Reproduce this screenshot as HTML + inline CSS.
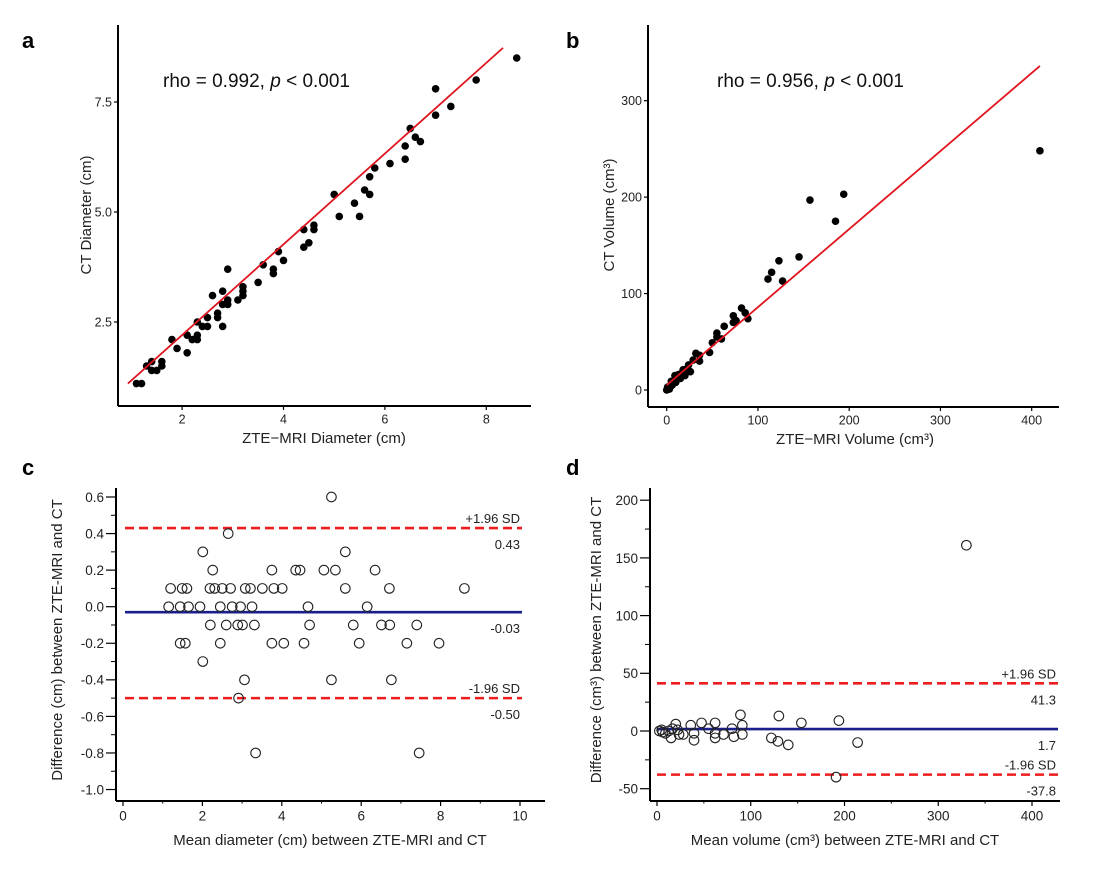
<!DOCTYPE html>
<html><head><meta charset="utf-8">
<style>
body{margin:0;background:#fff;}
svg{display:block;font-family:"Liberation Sans",Arial,sans-serif;}
</style></head>
<body>
<svg id="fig" width="1097" height="888" viewBox="0 0 1097 888" xmlns="http://www.w3.org/2000/svg">
<text x="22" y="48" font-size="22" font-weight="bold">a</text>
<text x="566" y="48" font-size="22" font-weight="bold">b</text>
<text x="22" y="475" font-size="22" font-weight="bold">c</text>
<text x="566" y="475" font-size="22" font-weight="bold">d</text>
</svg>
<script>
// Panel a data
const aX=[1.1,1.2,1.3,1.4,1.4,1.5,1.6,1.6,1.8,1.9,2.1,2.1,2.2,2.3,2.3,2.3,2.4,2.5,2.5,2.6,2.7,2.7,2.8,2.8,2.8,2.9,2.9,2.9,3.1,3.2,3.2,3.2,3.5,3.6,3.8,3.8,3.9,4.0,4.4,4.4,4.5,4.6,4.6,5.0,5.1,5.4,5.5,5.6,5.7,5.7,5.8,6.1,6.4,6.4,6.5,6.6,6.7,7.0,7.0,7.3,7.8,8.6];
const aY=[1.1,1.1,1.5,1.6,1.4,1.4,1.6,1.5,2.1,1.9,2.2,1.8,2.1,2.1,2.2,2.5,2.4,2.4,2.6,3.1,2.7,2.6,2.4,3.2,2.9,3.7,3.0,2.9,3.0,3.1,3.2,3.3,3.4,3.8,3.7,3.6,4.1,3.9,4.6,4.2,4.3,4.7,4.6,5.4,4.9,5.2,4.9,5.5,5.4,5.8,6.0,6.1,6.2,6.5,6.9,6.7,6.6,7.8,7.2,7.4,8.0,8.5];
const aFitX=[0.93,8.33];
const aFitY=[1.1,8.73];
const aTicksX=[2,4,6,8];
const aTicksY=[2.5,5.0,7.5];
const aTickLabelsY=["2.5","5.0","7.5"];
// Panel b data
const bX=[409,194,157,185,145,123,115,111,127,82,86,89,73,73,76,63,55,55,60,50,47,32,36,36,29,24,22,18,20,16,13,9,11,7,4,2,0,5,26,15,3,6,10,1];
const bY=[248,203,197,175,138,134,122,115,113,85,80,74,77,70,72,66,59,55,53,49,39,38,36,30,31,26,22,21,15,17,16,15,11,7,4,2,0,9,19,12,1,5,8,3];
const bFitX=[0,409];
const bFitY=[5,336];
const bTicksX=[0,100,200,300,400];
const bTicksY=[0,100,200,300];
// Panel c data
const cX=[5.25,2.65,2.01,5.6,2.26,3.75,4.35,4.46,5.06,5.35,6.35,1.2,1.49,1.61,2.19,2.31,2.5,2.71,3.08,3.21,3.51,3.8,4.01,5.6,6.71,8.6,1.15,1.44,1.65,1.94,2.45,2.75,2.96,3.25,4.66,6.15,2.2,2.6,2.89,3.01,3.31,4.7,5.8,6.51,6.72,7.4,1.44,1.57,2.45,3.75,4.05,4.56,5.95,7.15,7.96,2.01,3.06,5.25,6.76,2.91,3.34,7.46];
const cY=[0.6,0.4,0.3,0.3,0.2,0.2,0.2,0.2,0.2,0.2,0.2,0.1,0.1,0.1,0.1,0.1,0.1,0.1,0.1,0.1,0.1,0.1,0.1,0.1,0.1,0.1,0,0,0,0,0,0,0,0,0,0,-0.1,-0.1,-0.1,-0.1,-0.1,-0.1,-0.1,-0.1,-0.1,-0.1,-0.2,-0.2,-0.2,-0.2,-0.2,-0.2,-0.2,-0.2,-0.2,-0.3,-0.4,-0.4,-0.4,-0.5,-0.8,-0.8];
const cLimits=[0.43,-0.03,-0.50];
const cTicksX=[0,2,4,6,8,10];
const cTicksY=[0.6,0.4,0.2,0.0,-0.2,-0.4,-0.6,-0.8,-1.0];
const cTickLabelsY=["0.6","0.4","0.2","0.0","-0.2","-0.4","-0.6","-0.8","-1.0"];
// Panel d data
const dX=[2.5,5,6,9,12.5,15,16.5,20,22,23.5,28,36,39.5,39.5,47.5,55,62,62,62,71,80,82,89,91,91,122,129,130,140,154,191,194,214,330];
const dY=[0,1,-1,-2,0,-6,2,6,1,-3,-3,5,-2,-8,7,2,7,-2,-6,-3,2,-5,14,5,-3,-6,-9,13,-12,7,-40,9,-10,161];
const dLimits=[41.3,1.7,-37.8];
const dTicksX=[0,100,200,300,400];
const dTicksY=[200,150,100,50,0,-50];

const NS="http://www.w3.org/2000/svg";
const svg=document.getElementById('fig');
function mk(tag,attrs,parent){const e=document.createElementNS(NS,tag);for(const k in attrs)e.setAttribute(k,attrs[k]);(parent||svg).appendChild(e);return e;}
function lin(d0,d1,p0,p1){return v=>p0+(v-d0)*(p1-p0)/(d1-d0);}

function axes(p){
  const g=mk('g',{});
  
  
  const ya=mk('line',{x1:p.left,y1:p.top,x2:p.left,y2:p.bottom,stroke:'#000','stroke-width':p.sw},g);
  
  
  const xa=mk('line',{x1:p.left,y1:p.bottom,x2:p.right,y2:p.bottom,stroke:'#000','stroke-width':p.sw},g);
  
  
  const tl=p.tl, tlx=p.tlx, fs=p.fs;
  p.tx.forEach((v,i)=>{const x=p.sx(v);
    mk('line',{x1:x,y1:p.bottom,x2:x,y2:p.bottom+tlx,stroke:'#000','stroke-width':1.2},g);
    const t=mk('text',{x:x,y:p.bottom+tlx+fs+1,'font-size':fs,'text-anchor':'middle',fill:'#222'},g);
    t.textContent=p.txl?p.txl[i]:String(v);
    
    });
  p.ty.forEach((v,i)=>{const y=p.sy(v);
    mk('line',{x1:p.left-tl,y1:y,x2:p.left,y2:y,stroke:'#000','stroke-width':1.2},g);
    const t=mk('text',{x:p.left-tl-2,y:y+fs*0.36,'font-size':fs,'text-anchor':'end',fill:'#222'},g);
    t.textContent=p.tyl?p.tyl[i]:String(v);
    
    });
  (p.mx||[]).forEach(v=>{const x=p.sx(v);mk('line',{x1:x,y1:p.bottom,x2:x,y2:p.bottom+tlx/2,stroke:'#000'},g);});
  (p.my||[]).forEach(v=>{const y=p.sy(v);mk('line',{x1:p.left-tl/2,y1:y,x2:p.left,y2:y,stroke:'#000'},g);});
  const xt=mk('text',{x:p.xtc,y:p.bottom+p.xto,'font-size':15,'text-anchor':'middle',fill:'#222'},g);
  xt.textContent=p.xtitle;
  
  
  const yx=p.ytx, yy=p.tyc;
  const yt=mk('text',{x:yx,y:yy,'font-size':15,'text-anchor':'middle',fill:'#222',transform:'rotate(-90 '+yx+' '+yy+')'},g);
  yt.textContent=p.ytitle;
  
  
}

// ---- Panel a
const ax=lin(0,8,80.7,486.3), ay=lin(0,7.5,432,102);
axes({name:'panel-a',left:118,right:531,top:25,bottom:406,sw:2,tl:4,tlx:4,fs:12.5,sx:ax,sy:ay,tx:aTicksX,ty:aTicksY,tyl:aTickLabelsY,xtitle:'ZTE\u2212MRI Diameter (cm)',xtc:324,xto:37,ytitle:'CT Diameter (cm)',ytx:91,tyc:215});
aX.forEach((v,i)=>{const c=mk('circle',{cx:ax(v),cy:ay(aY[i]),r:3.8,fill:'#000'});
  
  });
{const l=mk('line',{x1:ax(aFitX[0]),y1:ay(aFitY[0]),x2:ax(aFitX[1]),y2:ay(aFitY[1]),stroke:'#e0141e','stroke-width':1.8});
 
 
 const t=mk('text',{x:163,y:87,'font-size':19,fill:'#111'});
 t.innerHTML='rho = 0.992, <tspan font-style="italic">p</tspan> &lt; 0.001';
 
 }

// ---- Panel b
const bx=lin(0,400,666.7,1031.7), by=lin(0,300,390,100.7);
axes({name:'panel-b',left:648,right:1059,top:25,bottom:407,sw:2,tl:4,tlx:4,fs:12.5,sx:bx,sy:by,tx:bTicksX,ty:bTicksY,xtitle:'ZTE\u2212MRI Volume (cm\u00b3)',xtc:855,xto:37,ytitle:'CT Volume (cm\u00b3)',ytx:614,tyc:215});
bX.forEach((v,i)=>{const c=mk('circle',{cx:bx(v),cy:by(bY[i]),r:3.8,fill:'#000'});
  
  });
{const l=mk('line',{x1:bx(bFitX[0]),y1:by(bFitY[0]),x2:bx(bFitX[1]),y2:by(bFitY[1]),stroke:'#e0141e','stroke-width':1.8});
 
 
 const t=mk('text',{x:717,y:87,'font-size':19,fill:'#111'});
 t.innerHTML='rho = 0.956, <tspan font-style="italic">p</tspan> &lt; 0.001';
 
 }

// ---- Panel c
const cx=lin(0,10,123,520), cy=lin(0,0.6,606.7,497);
const cMinY=[0.5,0.3,0.1,-0.1,-0.3,-0.5,-0.7,-0.9];
axes({name:'panel-c',left:116,right:545,top:488,bottom:801,sw:2,tl:10,tlx:5,fs:13.5,sx:cx,sy:cy,tx:cTicksX,ty:cTicksY,tyl:cTickLabelsY,mx:[1,3,5,7,9],my:cMinY,xtitle:'Mean diameter (cm) between ZTE-MRI and CT',xtc:330,xto:44,ytitle:'Difference (cm) between ZTE-MRI and CT',ytx:62,tyc:640});
function limitLines(name,sc,lims,x1,x2,labels){
  lims.forEach((v,i)=>{const y=sc(v);
    const l=mk('line',{x1:x1,y1:y,x2:x2,y2:y,stroke:i==1?'#1a1f8c':'#ee1c1c','stroke-width':2.6,'stroke-dasharray':i==1?'none':'9,5'});
    
    
    const t=mk('text',{x:x2-2,y:y+21,'font-size':13,'text-anchor':'end',fill:'#222'});
    t.textContent=labels[i];
    
    
    if(i!=1){const s=mk('text',{x:x2-2,y:y-5,'font-size':13,'text-anchor':'end',fill:'#222'});
      s.textContent=i==0?'+1.96 SD':'-1.96 SD';
      
      }
  });
}
limitLines('panel-c',cy,cLimits,125,522,cLimits.map(v=>v.toFixed(2)));
cX.forEach((v,i)=>{const c=mk('circle',{cx:cx(v),cy:cy(cY[i]),r:4.8,fill:'none',stroke:'#222','stroke-width':1.1});
  
  });

// ---- Panel d
const dx=lin(0,400,657,1032), dy=lin(0,50,731,673.3);
axes({name:'panel-d',left:650,right:1060,top:488,bottom:801,sw:2,tl:10,tlx:5,fs:13.5,sx:dx,sy:dy,tx:dTicksX,ty:dTicksY,mx:[50,150,250,350],my:[175,125,75,25,-25],xtitle:'Mean volume (cm\u00b3) between ZTE-MRI and CT',xtc:845,xto:44,ytitle:'Difference (cm\u00b3)  between ZTE-MRI and CT',ytx:601,tyc:640});
limitLines('panel-d',dy,dLimits,657,1058,dLimits.map(v=>v.toFixed(1)));
dX.forEach((v,i)=>{const c=mk('circle',{cx:dx(v),cy:dy(dY[i]),r:4.8,fill:'none',stroke:'#222','stroke-width':1.1});
  
  });
</script>
</body></html>
